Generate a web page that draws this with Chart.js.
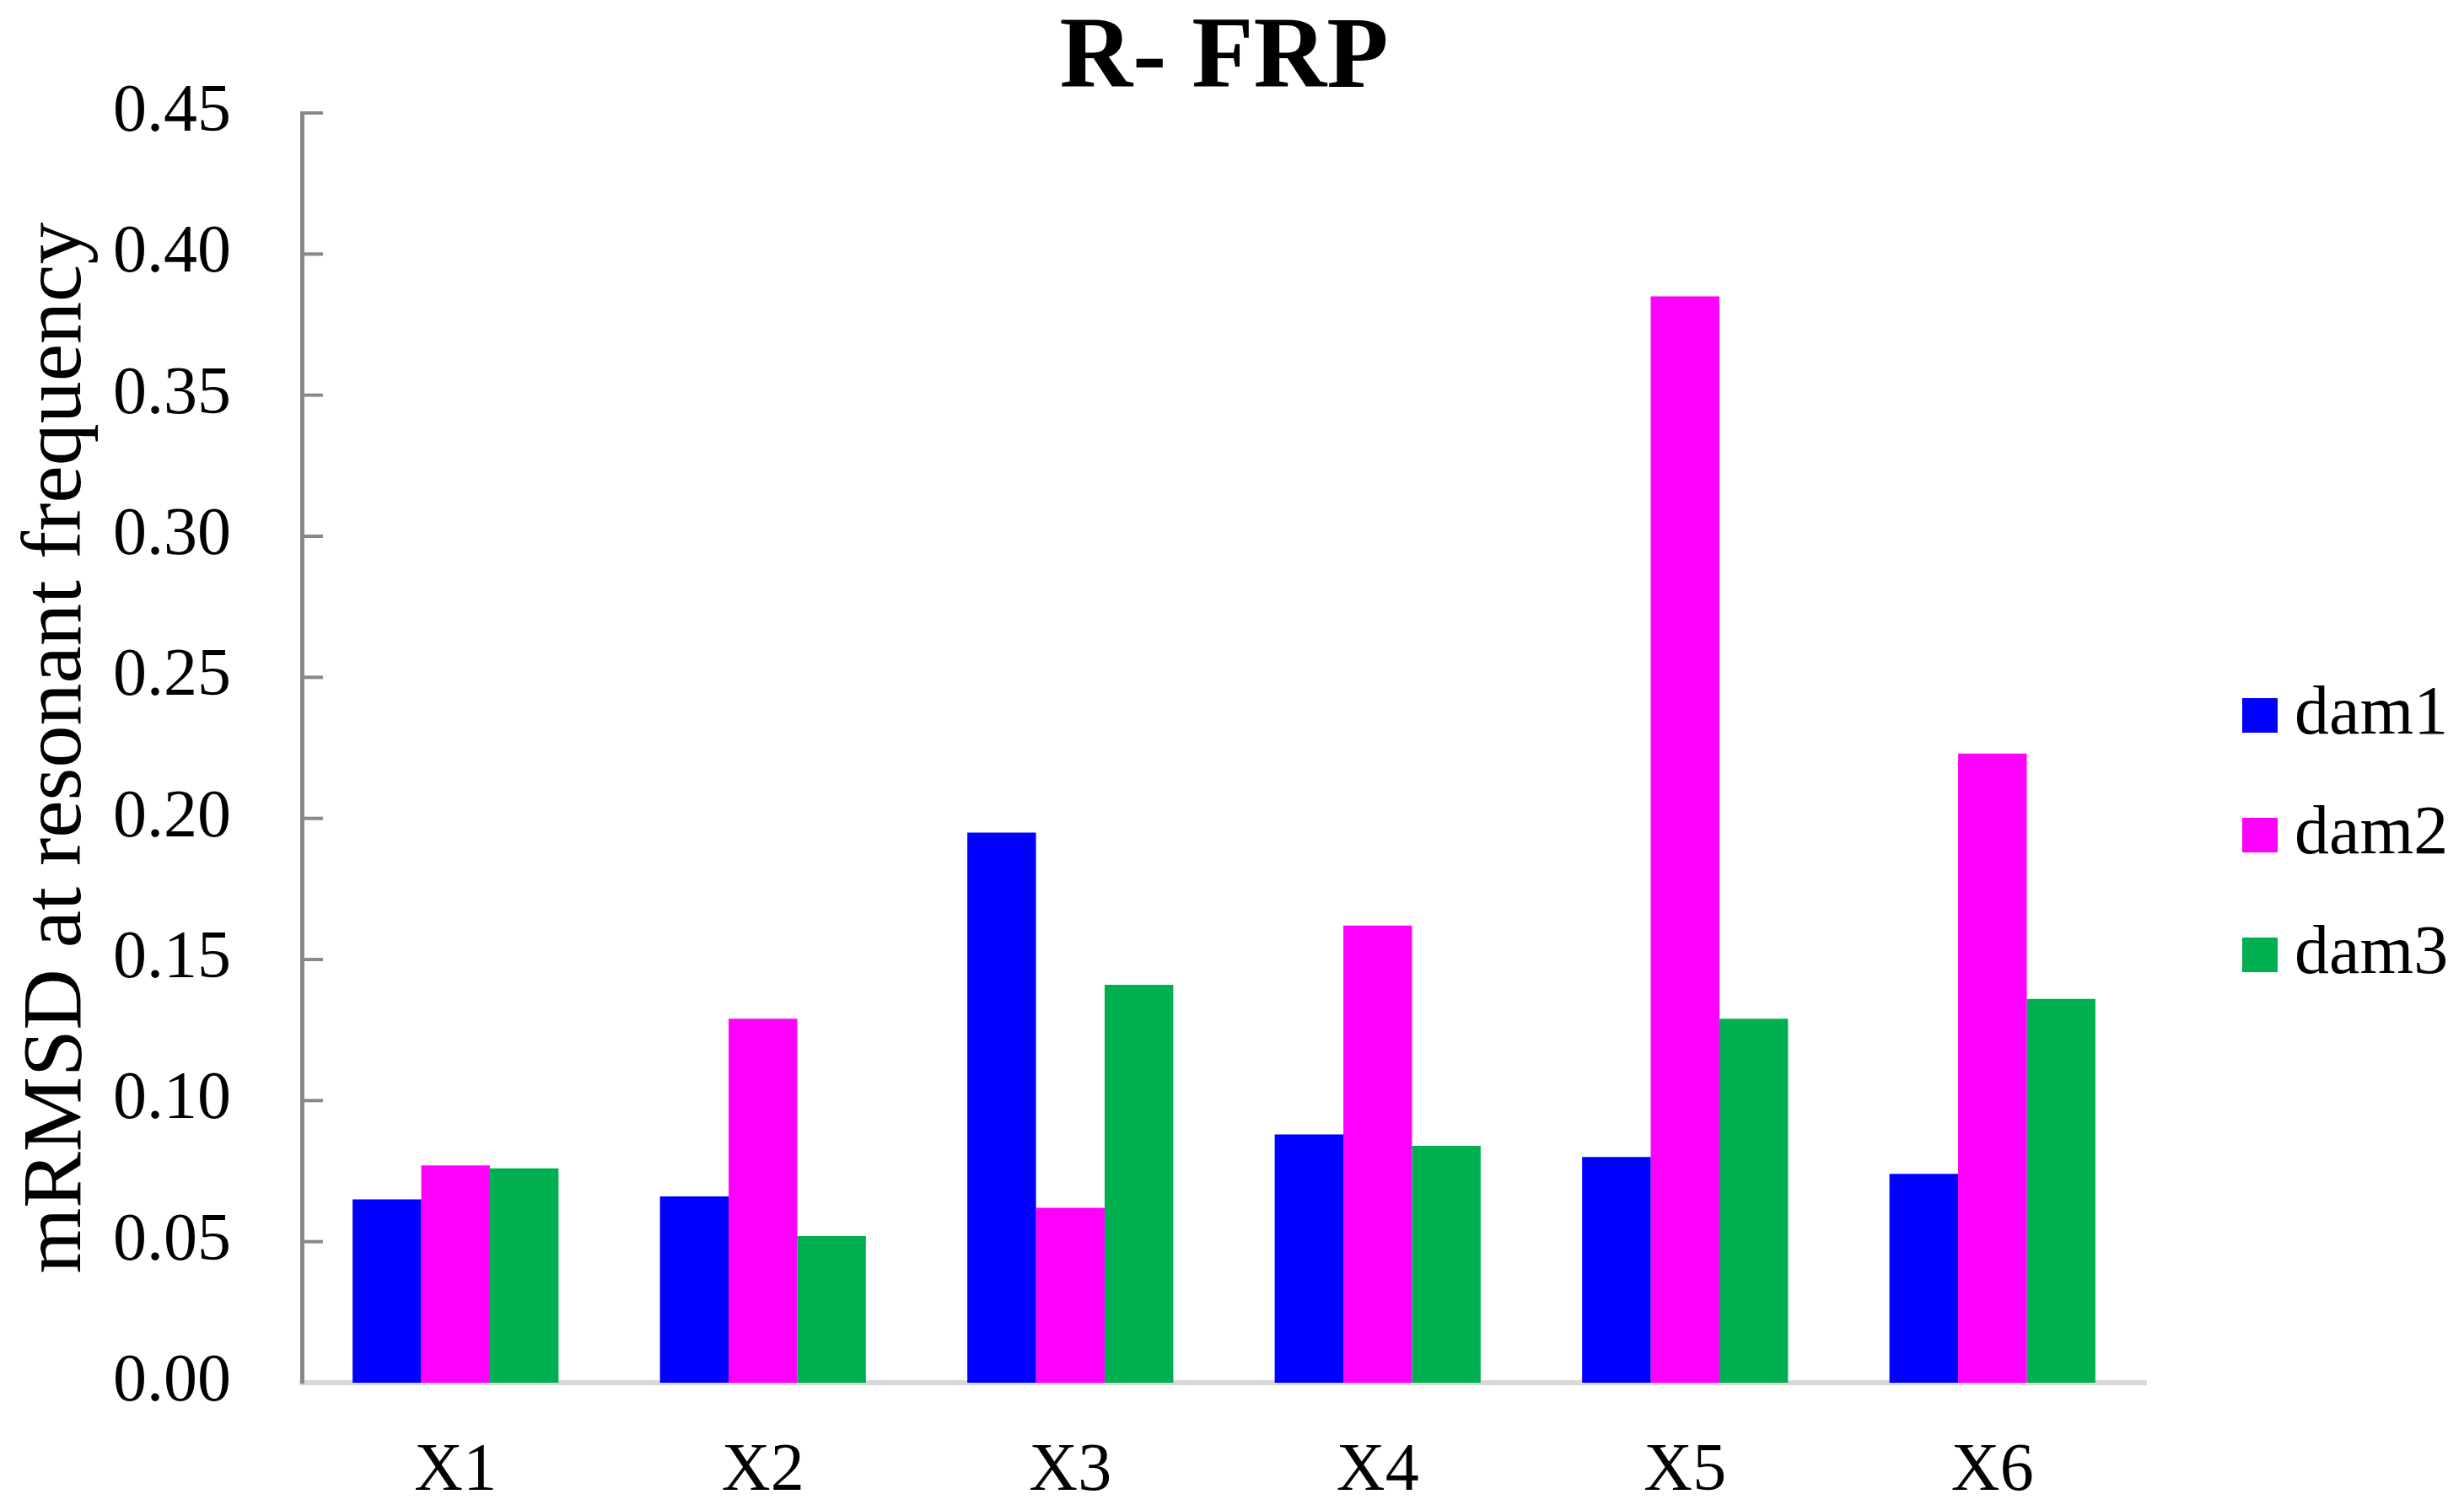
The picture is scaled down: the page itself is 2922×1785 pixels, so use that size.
<!DOCTYPE html>
<html>
<head>
<meta charset="utf-8">
<script src="https://cdn.jsdelivr.net/npm/chart.js@4.4.1/dist/chart.umd.min.js"></script>
<style>
  html, body { margin: 0; padding: 0; background: #fff; }
  canvas { display: block; }
</style>
</head>
<body>
<canvas id="chart" width="2922" height="1785"></canvas>
<script>
const categories = ['X1', 'X2', 'X3', 'X4', 'X5', 'X6'];
const seriesNames = ['dam1', 'dam2', 'dam3'];
const dam1 = [0.065, 0.066, 0.195, 0.088, 0.080, 0.074];
const dam2 = [0.077, 0.129, 0.062, 0.162, 0.385, 0.223];
const dam3 = [0.076, 0.052, 0.141, 0.084, 0.129, 0.136];
const yTicks = [0, 0.05, 0.10, 0.15, 0.20, 0.25, 0.30, 0.35, 0.40, 0.45];

const serif = "'Liberation Serif', 'Times New Roman', serif";
const colors = ['#0000ff', '#ff00ff', '#00b050'];

// small ticks pointing into the plot from the y axis
const innerTicks = {
  id: 'innerTicks',
  afterDraw(chart) {
    const y = chart.scales.y;
    const ctx = chart.ctx;
    const left = chart.chartArea.left;
    ctx.save();
    ctx.strokeStyle = '#898989';
    ctx.lineWidth = 4;
    yTicks.forEach(v => {
      if (v === 0) return;
      const py = y.getPixelForValue(v);
      ctx.beginPath();
      ctx.moveTo(left, py);
      ctx.lineTo(left + 25, py);
      ctx.stroke();
    });
    ctx.restore();
  }
};

// legend to the right of the plot
const sideLegend = {
  id: 'sideLegend',
  afterDraw(chart) {
    const ctx = chart.ctx;
    const x = chart.chartArea.right + 114;
    const y0 = 848;
    ctx.save();
    ctx.font = '82px ' + serif;
    ctx.textBaseline = 'middle';
    ctx.textAlign = 'left';
    chart.data.datasets.forEach((ds, i) => {
      const cy = y0 + i * 142;
      ctx.fillStyle = ds.backgroundColor;
      ctx.fillRect(x, cy - 20, 42, 41);
      ctx.fillStyle = '#000';
      ctx.fillText(ds.label, x + 62, cy);
    });
    ctx.restore();
  }
};

new Chart(document.getElementById('chart'), {
  type: 'bar',
  data: {
    labels: categories,
    datasets: [dam1, dam2, dam3].map((d, i) => ({
      label: seriesNames[i],
      data: d,
      backgroundColor: colors[i],
      borderWidth: 0,
      barPercentage: 1,
      categoryPercentage: 0.67
    }))
  },
  options: {
    responsive: false,
    animation: false,
    devicePixelRatio: 1,
    layout: { padding: { left: 0, right: 377, top: 0, bottom: 0 } },
    plugins: {
      legend: { display: false },
      tooltip: { enabled: false },
      title: {
        display: true,
        text: 'R- FRP',
        color: '#000',
        fullSize: false,
        font: { family: serif, size: 120, weight: 'bold', lineHeight: 1 },
        padding: { top: 12, bottom: 2 }
      }
    },
    scales: {
      x: {
        grid: { display: false },
        border: { display: true, color: '#d9d9d9', width: 6 },
        ticks: { color: '#000', font: { family: serif, size: 80 }, padding: 50 },
        afterFit: s => { s.height = 145; }
      },
      y: {
        min: 0,
        max: 0.45,
        afterBuildTicks: s => { s.ticks = yTicks.map(v => ({ value: v })); },
        grid: { display: false },
        border: { display: true, color: '#898989', width: 5 },
        ticks: {
          color: '#000',
          font: { family: serif, size: 80 },
          padding: 76,
          callback: v => v.toFixed(2)
        },
        title: {
          display: true,
          text: 'mRMSD at resonant frequency',
          color: '#000',
          font: { family: serif, size: 100 },
          padding: { top: 9, bottom: 0 }
        },
        afterFit: s => { s.width = 358; }
      }
    }
  },
  plugins: [innerTicks, sideLegend]
});
</script>
</body>
</html>
